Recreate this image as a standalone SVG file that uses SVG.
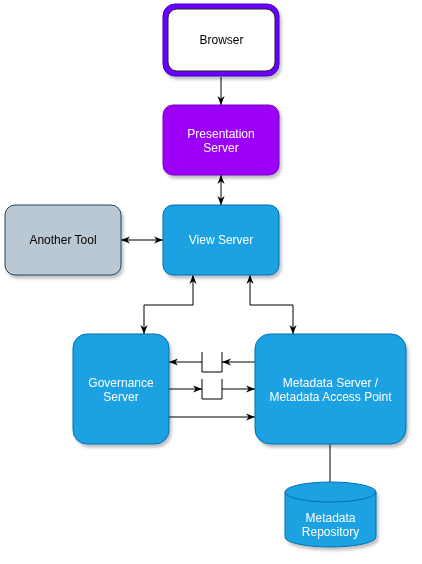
<svg xmlns="http://www.w3.org/2000/svg" width="422" height="564" viewBox="0 0 422 564">
<style>
text{font-family:"Liberation Sans",Arial,sans-serif;font-size:12px;text-anchor:middle;dominant-baseline:central}
.w{fill:#fff}
.k{fill:#000}
.blue{fill:#1ba1e2;stroke:#006eaf;stroke-width:1}
.conn{fill:none;stroke:#000;stroke-width:1}
</style>
<defs>
<filter id="sh" x="-10%" y="-10%" width="130%" height="130%">
<feDropShadow dx="2" dy="3" stdDeviation="1.5" flood-color="#000" flood-opacity="0.25"/>
</filter>
<marker id="ar" viewBox="0 0 10 10" refX="10" refY="5" markerWidth="9" markerHeight="9" markerUnits="userSpaceOnUse" orient="auto-start-reverse">
<path d="M0,1 L10,5 L0,9 L3,5 Z" fill="#000"/>
</marker>
</defs>
<g id="connectors">
<path class="conn" d="M221,77 V105" marker-end="url(#ar)"/>
<path class="conn" d="M221,175 V205" marker-start="url(#ar)" marker-end="url(#ar)"/>
<path class="conn" d="M121,240 H163" marker-start="url(#ar)" marker-end="url(#ar)"/>
<path class="conn" d="M193,275 V305 H144 V334" marker-start="url(#ar)" marker-end="url(#ar)"/>
<path class="conn" d="M250,275 V305 H293 V334" marker-start="url(#ar)" marker-end="url(#ar)"/>
<path class="conn" d="M255,362 H222" marker-end="url(#ar)"/>
<path class="conn" d="M202,362 H169" marker-end="url(#ar)"/>
<path class="conn" d="M169,389 H202" marker-end="url(#ar)"/>
<path class="conn" d="M222,389 H255" marker-end="url(#ar)"/>
<path class="conn" d="M169,417 H255" marker-end="url(#ar)"/>
<path class="conn" d="M330,444 V482"/>
</g>
<g id="queue1"><path class="conn" d="M202,352 V372 H222 V352"/></g>
<g id="queue2"><path class="conn" d="M202,379 V399 H222 V379"/></g>
<g id="browser" filter="url(#sh)">
<rect x="163" y="4" width="116" height="72" rx="12" fill="#6a00ff" stroke="#3700cc"/>
<rect x="168" y="9" width="107" height="62" rx="9" fill="#fff" stroke="#222"/>
<text x="221.5" y="40" class="k">Browser</text>
</g>
<g id="presentation-server" filter="url(#sh)">
<rect x="163" y="105" width="116" height="70" rx="10" fill="#9c00f7" stroke="#7700cc"/>
<text x="221" y="134" class="w">Presentation</text>
<text x="221" y="148" class="w">Server</text>
</g>
<g id="view-server" filter="url(#sh)">
<rect x="163" y="205" width="116" height="70" rx="10" class="blue"/>
<text x="221" y="240" class="w">View Server</text>
</g>
<g id="another-tool" filter="url(#sh)">
<rect x="5" y="205" width="116" height="70" rx="10" fill="#bac8d3" stroke="#23445d"/>
<text x="63" y="240" class="k">Another Tool</text>
</g>
<g id="governance-server" filter="url(#sh)">
<rect x="73" y="334" width="96" height="110" rx="14" class="blue"/>
<text x="121" y="383" class="w">Governance</text>
<text x="121" y="397" class="w">Server</text>
</g>
<g id="metadata-server" filter="url(#sh)">
<rect x="255" y="334" width="151" height="110" rx="15" class="blue"/>
<text x="330.5" y="383" class="w">Metadata Server /</text>
<text x="330.5" y="397" class="w">Metadata Access Point</text>
</g>
<g id="metadata-repository" filter="url(#sh)">
<path class="blue" d="M285,492 A45.5,10 0 0 1 376,492 V537 A45.5,10 0 0 1 285,537 Z"/>
<path fill="none" stroke="#006eaf" d="M285,492 A45.5,10 0 0 0 376,492"/>
<text x="330.5" y="518" class="w">Metadata</text>
<text x="330.5" y="532" class="w">Repository</text>
</g>
</svg>
